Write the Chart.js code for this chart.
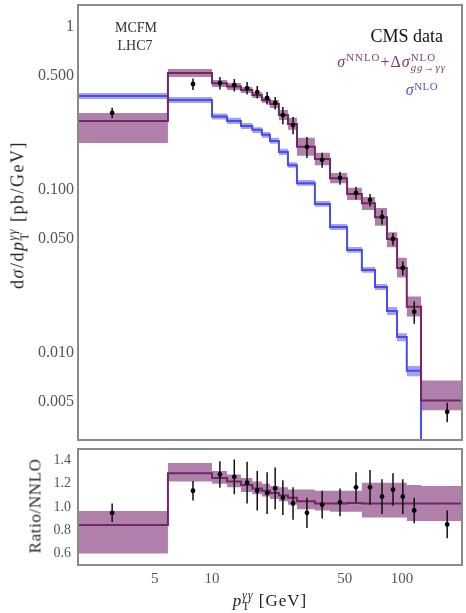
<!DOCTYPE html>
<html>
<head>
<meta charset="utf-8">
<script src="https://cdn.jsdelivr.net/npm/chart.js@4.4.0/dist/chart.umd.min.js"></script>
<style>
  html, body { margin: 0; padding: 0; background: #fff; }
  #wrap { position: relative; width: 466px; height: 613px; overflow: hidden;
          font-family: "Liberation Serif", "DejaVu Serif", serif; }
  #mainBox { position: absolute; left: 0; top: 0; width: 466px; height: 445px; }
  #ratioBox { position: absolute; left: 0; top: 445px; width: 466px; height: 168px; }
  canvas { display: block; }
  .lbl { position: absolute; white-space: nowrap; line-height: 1; }
  .ctr { transform: translate(-50%, -50%); }
  .rgt { transform: translate(-100%, -50%); }
  .rot { transform: translate(-50%, -50%) rotate(-90deg); }
  .ss { display: inline-block; vertical-align: -0.38em; font-size: 0.68em; line-height: 0.95; text-align: left; }
  .ss span { display: block; }
  sup { font-size: 0.68em; vertical-align: 0.5em; line-height: 0; }
</style>
</head>
<body>
<div id="wrap">
  <div id="mainBox"><canvas id="mainChart" width="466" height="445"></canvas></div>
  <div id="ratioBox"><canvas id="ratioChart" width="466" height="168"></canvas></div>

  <div class="lbl ctr" style="left:136px; top:28px; font-size:14px; color:#333;">MCFM</div>
  <div class="lbl ctr" style="left:135px; top:46px; font-size:14px; color:#333;">LHC7</div>
  <div class="lbl rgt" style="left:443px; top:36px; font-size:18px; color:#111;">CMS data</div>
  <div class="lbl rgt" style="left:446px; top:62px; font-size:16px; letter-spacing:1px; color:#7a3a70;"><i>σ</i><sup>NNLO</sup>+Δ<i>σ</i><span class="ss"><span>NLO</span><span><i>gg</i>→<i>γγ</i></span></span></div>
  <div class="lbl rgt" style="left:438px; top:90px; font-size:16px; letter-spacing:0.5px; color:#5050dd;"><i>σ</i><sup>NLO</sup></div>

  <div class="lbl rot" style="left:19px; top:215px; font-size:18px; letter-spacing:1.5px; color:#222;">d<i>σ</i>/d<i>p</i><span class="ss"><span><i>γγ</i></span><span>T</span></span> [pb/GeV]</div>
  <div class="lbl rot" style="left:35px; top:506px; font-size:17px; letter-spacing:0.6px; color:#222;">Ratio/NNLO</div>
  <div class="lbl ctr" style="left:270px; top:601px; font-size:17px; letter-spacing:1px; color:#222;"><i>p</i><span class="ss"><span><i>γγ</i></span><span>T</span></span> [GeV]</div>
</div>
<script>
// bin edges in pT [GeV] and the CMS data point positions
const binEdges = [1.97, 5.86, 10, 12, 14.2, 16.3, 18.3, 20.2, 22.5, 25.1, 28, 34.8, 41.8, 51.4, 61.5, 72.1, 83.4, 94.2, 106, 126, 207];
const dataPt = [2.98, 7.94, 11.0, 13.1, 15.3, 17.3, 19.5, 21.5, 23.6, 26.7, 31.6, 38, 47.2, 57.3, 67.9, 78.5, 89.7, 101, 116, 173];

// main panel, dsigma/dpT [pb/GeV]
const cmsData = [0.297, 0.447, 0.453, 0.441, 0.422, 0.399, 0.367, 0.342, 0.288, 0.250, 0.184, 0.153, 0.1185, 0.0959, 0.0868, 0.0683, 0.0500, 0.0332, 0.0179, 0.00435];
const cmsErr = [0.022, 0.036, 0.040, 0.039, 0.037, 0.035, 0.032, 0.030, 0.035, 0.030, 0.027, 0.016, 0.011, 0.0085, 0.0077, 0.0069, 0.0044, 0.0033, 0.0028, 0.0006];
const nnlo = [0.265, 0.522, 0.451, 0.432, 0.411, 0.383, 0.356, 0.337, 0.288, 0.254, 0.184, 0.155, 0.118, 0.0945, 0.083, 0.068, 0.050, 0.0332, 0.0192, 0.0051];
const nnloHi = [0.297, 0.552, 0.473, 0.453, 0.428, 0.399, 0.372, 0.356, 0.310, 0.277, 0.209, 0.169, 0.127, 0.103, 0.0906, 0.0775, 0.0551, 0.0384, 0.0222, 0.00676];
const nnloLo = [0.194, 0.493, 0.429, 0.411, 0.394, 0.367, 0.342, 0.318, 0.269, 0.234, 0.162, 0.142, 0.110, 0.0868, 0.0754, 0.0602, 0.0445, 0.0290, 0.0167, 0.00445];
const nlo = [0.377, 0.356, 0.282, 0.265, 0.247, 0.234, 0.218, 0.200, 0.171, 0.142, 0.110, 0.0820, 0.0593, 0.0428, 0.0323, 0.0254, 0.0181, 0.0125, 0.00776];
const nloHi = [0.394, 0.372, 0.295, 0.277, 0.258, 0.243, 0.227, 0.209, 0.179, 0.148, 0.115, 0.0855, 0.0619, 0.0447, 0.0337, 0.0265, 0.0191, 0.0132, 0.0083];
const nloLo = [0.362, 0.342, 0.271, 0.254, 0.237, 0.224, 0.209, 0.192, 0.164, 0.137, 0.106, 0.0788, 0.0568, 0.0411, 0.0310, 0.0243, 0.0171, 0.0118, 0.0072];

// ratio panel
const ratioData = [0.95, 1.14, 1.28, 1.26, 1.21, 1.14, 1.12, 1.16, 1.08, 1.03, 0.95, 1.02, 1.04, 1.17, 1.17, 1.09, 1.15, 1.09, 0.97, 0.85];
const ratioErr = [0.08, 0.085, 0.115, 0.15, 0.18, 0.17, 0.18, 0.18, 0.15, 0.14, 0.13, 0.12, 0.12, 0.13, 0.15, 0.15, 0.14, 0.15, 0.11, 0.12];
const ratioLine = [0.845, 1.29, 1.25, 1.22, 1.19, 1.16, 1.14, 1.12, 1.10, 1.08, 1.05, 1.03, 1.03, 1.035, 1.03, 1.03, 1.03, 1.03, 1.03, 1.03];
const ratioHi = [0.965, 1.38, 1.31, 1.28, 1.25, 1.22, 1.20, 1.18, 1.17, 1.15, 1.15, 1.14, 1.14, 1.14, 1.21, 1.21, 1.21, 1.21, 1.19, 1.18];
const ratioLo = [0.60, 1.22, 1.20, 1.17, 1.13, 1.11, 1.09, 1.07, 1.05, 1.02, 0.98, 0.97, 0.96, 0.96, 0.91, 0.91, 0.91, 0.91, 0.88, 0.88];

const mainTicks = [1, 0.5, 0.1, 0.05, 0.01, 0.005];
const ratioTicks = [0.6, 0.8, 1.0, 1.2, 1.4];
const ptTicks = [5, 10, 50, 100];

const PURPLE_LINE = '#6e2864';
const PURPLE_BAND = 'rgba(135,60,125,0.65)';
const BLUE_LINE = '#4b4be6';
const BLUE_BAND = 'rgba(110,110,240,0.65)';
const FONT = '"Liberation Serif", "DejaVu Serif", serif';

// histogram -> stepped points (value i spans edge i .. edge i+1)
function steps(vals){
    const pts = vals.map((v, i) => ({x: binEdges[i], y: v}));
    pts.push({x: binEdges[vals.length], y: vals[vals.length - 1]});
    return pts;
}

// vertical error segments separated by gaps
function errorBars(ys, errs){
    const out = [];
    dataPt.forEach((x, i) => {
        out.push({x: x, y: ys[i] - errs[i]}, {x: x, y: ys[i] + errs[i]}, {x: x, y: null});
    });
    return out;
}

function points(ys){
    return dataPt.map((x, i) => ({x: x, y: ys[i]}));
}

// keep the plot frame exactly where layout.padding puts it
function noLabelPadding(s){
    s.paddingTop = 0; s.paddingBottom = 0; s.paddingLeft = 0; s.paddingRight = 0;
}

const frame = {
    id: 'frame',
    afterDraw(chart){
        const a = chart.chartArea, ctx = chart.ctx;
        ctx.save();
        ctx.strokeStyle = '#8a8a8a';
        ctx.lineWidth = 2;
        ctx.strokeRect(a.left, a.top, a.right - a.left, a.bottom - a.top);
        ctx.restore();
    }
};

const band = (data, color, fill) => ({
    data: data, stepped: 'before', borderWidth: 0, borderColor: 'rgba(0,0,0,0)',
    backgroundColor: color, fill: fill, pointRadius: 0
});

// blue curve ends at the last edge and drops off the axis
const nloLine = steps(nlo);
nloLine.push({x: binEdges[nlo.length], y: 1e-4});

new Chart(document.getElementById('mainChart'), {
    type: 'line',
    data: {
        datasets: [
            {data: points(cmsData), showLine: false, pointRadius: 2.4, pointBackgroundColor: '#000', pointBorderWidth: 0},
            {data: errorBars(cmsData, cmsErr), borderColor: '#111', borderWidth: 1.5, pointRadius: 0, spanGaps: false},
            {data: steps(nnlo), stepped: 'before', borderColor: PURPLE_LINE, borderWidth: 2, pointRadius: 0, fill: false},
            {data: nloLine, stepped: 'before', borderColor: BLUE_LINE, borderWidth: 2, pointRadius: 0, fill: false, clip: 0},
            band(steps(nnloHi), PURPLE_BAND, false),
            band(steps(nnloLo), PURPLE_BAND, '-1'),
            band(steps(nloHi), BLUE_BAND, false),
            band(steps(nloLo), BLUE_BAND, '-1')
        ]
    },
    options: {
        responsive: false,
        animation: false,
        devicePixelRatio: 1,
        layout: {padding: {left: 0, right: 4, top: 5, bottom: 5}},
        plugins: {legend: {display: false}, tooltip: {enabled: false}},
        scales: {
            x: {type: 'logarithmic', min: 1.97, max: 207, display: false},
            y: {
                type: 'logarithmic', min: 0.00292, max: 1.365,
                grid: {display: false, drawTicks: false}, border: {display: false},
                afterBuildTicks: s => { s.ticks = mainTicks.map(v => ({value: v})); },
                afterFit: s => { s.width = 78; noLabelPadding(s); },
                ticks: {
                    padding: 4, color: '#555', font: {family: FONT, size: 16},
                    callback: v => v === 1 ? '1' : v.toFixed(3)
                }
            }
        }
    },
    plugins: [frame]
});

new Chart(document.getElementById('ratioChart'), {
    type: 'line',
    data: {
        datasets: [
            {data: points(ratioData), showLine: false, pointRadius: 2.4, pointBackgroundColor: '#000', pointBorderWidth: 0},
            {data: errorBars(ratioData, ratioErr), borderColor: '#111', borderWidth: 1.5, pointRadius: 0, spanGaps: false},
            {data: steps(ratioLine), stepped: 'before', borderColor: PURPLE_LINE, borderWidth: 2, pointRadius: 0, fill: false},
            band(steps(ratioHi), PURPLE_BAND, false),
            band(steps(ratioLo), PURPLE_BAND, '-1')
        ]
    },
    options: {
        responsive: false,
        animation: false,
        devicePixelRatio: 1,
        layout: {padding: {left: 0, right: 4, top: 2, bottom: 0}},
        plugins: {legend: {display: false}, tooltip: {enabled: false}},
        scales: {
            x: {
                type: 'logarithmic', min: 1.97, max: 207,
                grid: {display: false, drawTicks: false}, border: {display: false},
                afterBuildTicks: s => { s.ticks = ptTicks.map(v => ({value: v})); },
                afterFit: s => { s.height = 48; noLabelPadding(s); },
                ticks: {padding: 5, color: '#555', font: {family: FONT, size: 15}, maxRotation: 0, autoSkip: false,
                        callback: v => String(v)}
            },
            y: {
                min: 0.5, max: 1.5,
                grid: {display: false, drawTicks: false}, border: {display: false},
                afterBuildTicks: s => { s.ticks = ratioTicks.map(v => ({value: v})); },
                afterFit: s => { s.width = 78; noLabelPadding(s); },
                ticks: {padding: 7, color: '#555', font: {family: FONT, size: 14},
                        callback: v => v.toFixed(1)}
            }
        }
    },
    plugins: [frame]
});
</script>
</body>
</html>
